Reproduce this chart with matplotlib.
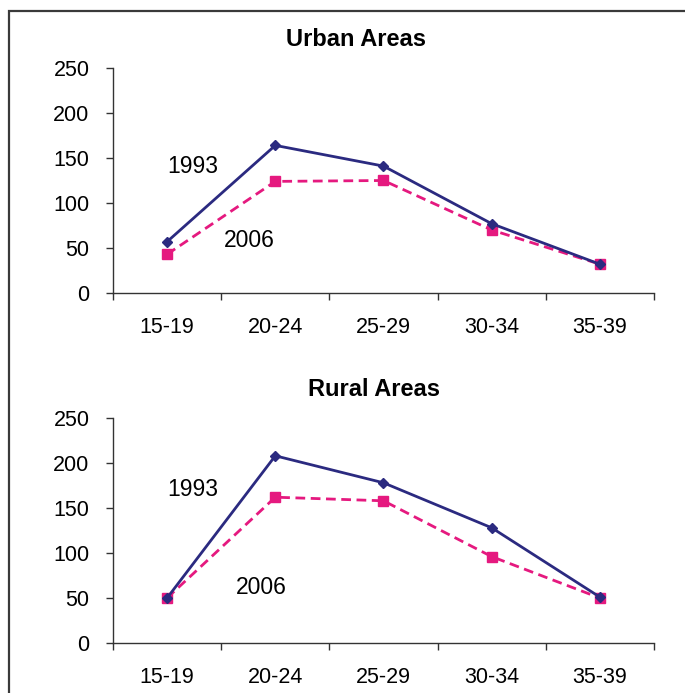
import matplotlib
matplotlib.use("Agg")
import matplotlib.pyplot as plt
from matplotlib.lines import Line2D
import numpy as np

plt.rcParams['font.family'] = ['Liberation Sans', 'DejaVu Sans']

categories = ["15-19", "20-24", "25-29", "30-34", "35-39"]
urban_1993 = [57, 164, 141, 77, 32]
urban_2006 = [43, 124, 125, 70, 32]
rural_1993 = [50, 208, 178, 128, 51]
rural_2006 = [50, 162, 158, 96, 50]
yticks = [0, 50, 100, 150, 200, 250]

navy = '#2b2a80'
pink = '#e5197f'

fig = plt.figure(figsize=(6.85, 6.93), dpi=100)

# Frame: top and left edges only
fx, fy = 8.5/685, 1 - 11/693
fig.lines.append(Line2D([fx, fx, 1.0], [0.0, fy, fy], transform=fig.transFigure,
                        color='#3a3a3a', linewidth=1.6, solid_joinstyle='miter'))

def panel(rect, s1993, s2006, title, title_x, title_y, lab1993, lab2006):
    ax = fig.add_axes(rect)
    x = np.arange(len(categories))
    ax.plot(x, s1993, color=navy, lw=2, marker='D', ms=5, mfc=navy, mec=navy, zorder=3)
    ax.plot(x, s2006, color=pink, lw=2, ls=(0, (3.5, 2)), marker='s', ms=7,
            mfc=pink, mec=pink, zorder=2)
    ax.set_xlim(-0.5, len(categories) - 0.5)
    ax.set_ylim(0, 250)
    ax.set_yticks(yticks)
    ax.set_xticks(x)
    ax.set_xticklabels(categories)
    ax.set_xticks(np.arange(-0.5, len(categories)), minor=True)
    ax.tick_params(axis='x', which='major', length=0, pad=17, labelsize=15.5)
    ax.tick_params(axis='x', which='minor', length=5, width=1, direction='out', color='#333333')
    ax.tick_params(axis='y', length=5, width=1, direction='out', labelsize=15.5, pad=12, color='#333333')
    for s in ['top', 'right']:
        ax.spines[s].set_visible(False)
    for s in ['left', 'bottom']:
        ax.spines[s].set_color('#333333')
        ax.spines[s].set_linewidth(1)
    ax.text(lab1993[0], lab1993[1], "1993", fontsize=16.5, ha='center', va='center')
    ax.text(lab2006[0], lab2006[1], "2006", fontsize=16.5, ha='center', va='center')
    fig.text(title_x, title_y, title, fontsize=17, fontweight='bold', ha='center', va='center')
    return ax

panel([113/685, 1 - 293/693, (654-113)/685, (293-68)/693], urban_1993, urban_2006,
      "Urban Areas", 356/685, 1 - 40/693, (0.24, 141), (0.76, 58))
panel([113/685, 1 - 643/693, (654-113)/685, (643-418)/693], rural_1993, rural_2006,
      "Rural Areas", 374/685, 1 - 390/693, (0.24, 171), (0.87, 62))

fig.savefig("out.png", dpi=100)
